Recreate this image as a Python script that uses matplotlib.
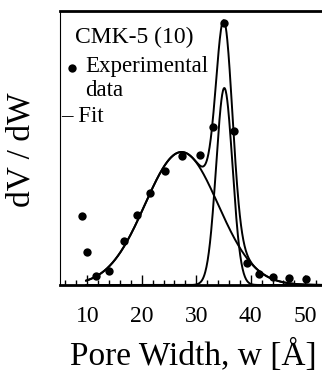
import numpy as np
import matplotlib.pyplot as plt
from matplotlib.ticker import MultipleLocator

plt.rcParams['font.family'] = ['Liberation Serif', 'DejaVu Serif']

# measured pore size distribution (arbitrary units)
pore_width = [9.0, 9.9, 11.6, 14.0, 16.7, 19.2, 21.6, 24.3, 27.3, 30.6,
              33.0, 35.0, 36.9, 39.4, 41.6, 44.1, 47.0, 50.1]
dv_dw = [69, 33, 9, 14, 44, 70, 92, 114, 129, 130,
         158, 262, 154, 22, 11, 8, 7, 6]

# two-gaussian fit: centre [A], sigma [A], height
fit_center = [27.3, 35.15]
fit_sigma = [6.7, 1.5]
fit_height = [133, 197]
fit_range = (9.8, 53.0)


def gauss(w, c, s, h):
    return h * np.exp(-(w - c) ** 2 / (2 * s ** 2))


def main():
    fig = plt.figure(figsize=(3.22, 3.73), dpi=100)
    ax = fig.add_axes([60 / 322, 1 - 285 / 373, 262 / 322, 274 / 373])

    w = np.linspace(fit_range[0], fit_range[1], 600)
    parts = [gauss(w, c, s, h) for c, s, h in zip(fit_center, fit_sigma, fit_height)]
    for p in parts:
        ax.plot(w, p, color='black', lw=1.4, clip_on=False)
    ax.plot(w, parts[0] + parts[1], color='black', lw=1.4)

    ax.plot(pore_width, dv_dw, 'o', color='black', ms=6, mew=0, clip_on=False)

    ax.set_xlim(5, 5 + 262 / 5.45)
    ax.set_ylim(0, 274)

    ax.spines['right'].set_visible(False)
    ax.spines['left'].set_linewidth(0.8)
    ax.spines['top'].set_linewidth(2)
    ax.spines['bottom'].set_linewidth(2)
    ax.set_yticks([])
    ax.xaxis.set_major_locator(MultipleLocator(10))
    ax.xaxis.set_minor_locator(MultipleLocator(2))
    ax.tick_params(axis='x', which='major', direction='in', length=7, width=1,
                   labelsize=17, pad=15)
    ax.tick_params(axis='x', which='minor', direction='in', length=3.5, width=1)

    # in-plot key
    tr = ax.transAxes
    ax.text(0.057, 0.883, 'CMK-5 (10)', transform=tr, fontsize=17, va='baseline')
    ax.plot([0.045], [0.792], 'o', color='black', ms=6, mew=0, transform=tr)
    ax.text(0.095, 0.777, 'Experimental', transform=tr, fontsize=16.5, va='baseline')
    ax.text(0.095, 0.688, 'data', transform=tr, fontsize=16.5, va='baseline')
    ax.text(0.005, 0.595, '– Fit', transform=tr, fontsize=16.5, va='baseline')

    fig.text(193.5 / 322, 1 - 365 / 373, 'Pore Width, w [Å]', fontsize=24,
             ha='center', va='baseline')
    fig.text(21 / 322, 1 - 150 / 373, 'dV / dW', fontsize=24, rotation=90,
             ha='center', va='center')

    fig.savefig('out.png', dpi=100)


if __name__ == '__main__':
    main()
